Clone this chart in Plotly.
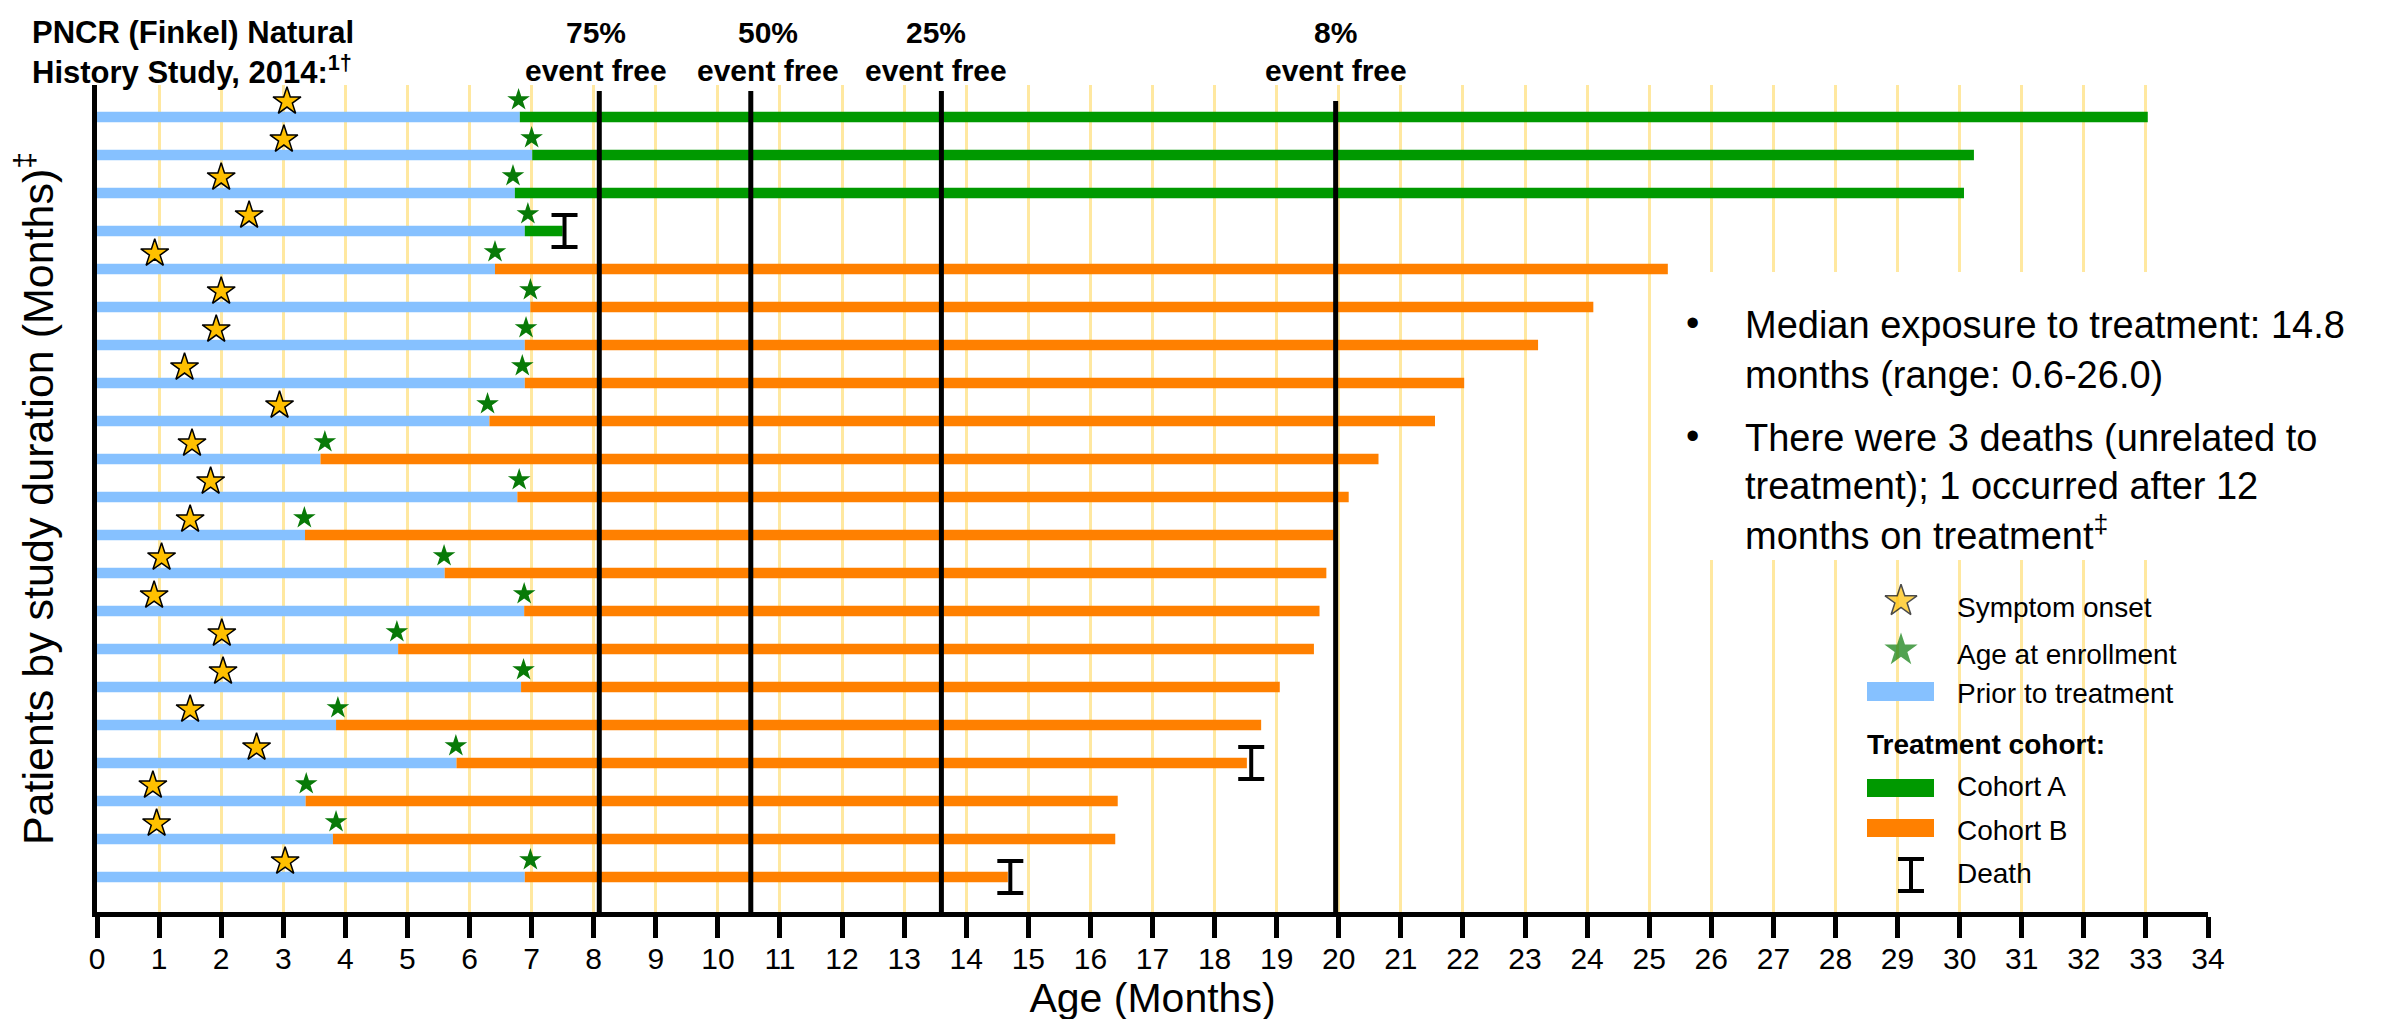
import plotly.graph_objects as go

# ---------------- data ----------------
rows = list(range(1, 22))  # patients ordered by study duration (top = 1)
symptom_onset = [3.06, 3.01, 2.00, 2.45, 0.93, 2.00, 1.92, 1.41, 2.94, 1.53, 1.83,
                 1.50, 1.04, 0.92, 2.01, 2.03, 1.50, 2.57, 0.90, 0.96, 3.03]
age_enrollment = [6.79, 7.00, 6.70, 6.94, 6.41, 6.98, 6.91, 6.85, 6.29, 3.67, 6.80,
                  3.34, 5.59, 6.88, 4.83, 6.87, 3.88, 5.78, 3.37, 3.85, 6.98]
treatment_start = [6.81, 7.01, 6.73, 6.89, 6.41, 6.98, 6.89, 6.89, 6.32, 3.60, 6.77,
                   3.35, 5.60, 6.88, 4.85, 6.83, 3.85, 5.79, 3.36, 3.80, 6.89]
study_end = [33.03, 30.23, 30.07, 7.50, 25.30, 24.10, 23.21, 22.02, 21.55, 20.64, 20.16,
             19.92, 19.80, 19.69, 19.60, 19.05, 18.75, 18.52, 16.44, 16.40, 14.67]
cohort = ['A', 'A', 'A', 'A', 'B', 'B', 'B', 'B', 'B', 'B', 'B',
          'B', 'B', 'B', 'B', 'B', 'B', 'B', 'B', 'B', 'B']
death_rows = [4, 18, 21]
death_age = [7.53, 18.59, 14.71]
event_free_age = [8.09, 10.53, 13.60, 19.95]
event_free_label = ['75%', '50%', '25%', '8%']
x_ticks = list(range(0, 35))

# ---------------- style ----------------
FONT = 'Liberation Sans, Arial, sans-serif'
BLUE = '#86C1FF'
GREEN_BAR = '#009900'
ORANGE = '#FF8000'
GOLD = '#FFC000'
STAR_GREEN = '#087A08'
GRID = '#FFE8A0'
COHORT_COLOR = {'A': GREEN_BAR, 'B': ORANGE}

W, H = 2381, 1019
L, R, T, B = 89, 2200, 77, 904   # plot area in pixels


def pxx(xp):
    return (xp - L) / (R - L)


def pxy(yp):
    return (B - yp) / (B - T)


fig = go.Figure()

# prior-to-treatment bars
fig.add_trace(go.Bar(y=rows, x=treatment_start, base=[0] * len(rows), orientation='h',
                     marker=dict(color=BLUE, line=dict(width=0)), width=0.28,
                     showlegend=False, hoverinfo='skip'))
# treatment bars per cohort
for c in ['A', 'B']:
    idx = [i for i, v in enumerate(cohort) if v == c]
    fig.add_trace(go.Bar(y=[rows[i] for i in idx],
                         x=[study_end[i] - treatment_start[i] for i in idx],
                         base=[treatment_start[i] for i in idx], orientation='h',
                         marker=dict(color=COHORT_COLOR[c], line=dict(width=0)), width=0.28,
                         showlegend=False, hoverinfo='skip'))

# symptom onset (gold star) and age at enrollment (green star), drawn just above each bar
fig.add_trace(go.Scatter(x=symptom_onset, y=[r - 0.41 for r in rows], mode='markers',
                         marker=dict(symbol='star', size=21, color=GOLD,
                                     line=dict(color='black', width=1.5)),
                         showlegend=False, hoverinfo='skip'))
fig.add_trace(go.Scatter(x=age_enrollment, y=[r - 0.45 for r in rows], mode='markers',
                         marker=dict(symbol='star', size=17, color=STAR_GREEN,
                                     line=dict(width=0)),
                         showlegend=False, hoverinfo='skip'))

# deaths as I-beams
fig.add_trace(go.Scatter(x=death_age, y=death_rows, mode='markers',
                         marker=dict(size=1, color='rgba(0,0,0,0)'),
                         error_y=dict(type='constant', value=0.42, width=13, thickness=4,
                                      color='black'),
                         showlegend=False, hoverinfo='skip'))

shapes = []
annotations = []

# event-free reference lines and labels
line_top_px = [83, 83, 83, 93]
label_shift = [-3, 17, -5, 0]
for a, lab, top, sh in zip(event_free_age, event_free_label, line_top_px, label_shift):
    shapes.append(dict(type='line', xref='x', yref='paper', x0=a, x1=a, y0=0, y1=pxy(top),
                       line=dict(color='black', width=5), layer='above'))
    annotations.append(dict(xref='x', yref='paper', x=a, xshift=sh, y=pxy(25), text=f'<b>{lab}</b>',
                            showarrow=False, font=dict(size=30, color='black'),
                            xanchor='center', yanchor='middle'))
    annotations.append(dict(xref='x', yref='paper', x=a, xshift=sh, y=pxy(62), text='<b>event free</b>',
                            showarrow=False, font=dict(size=30, color='black'),
                            xanchor='center', yanchor='middle'))

# title at top-left
annotations.append(dict(xref='paper', yref='paper', x=pxx(22), y=pxy(25), xanchor='left', yanchor='middle',
                        text='<b>PNCR (Finkel) Natural</b>', showarrow=False,
                        font=dict(size=31, color='black')))
annotations.append(dict(xref='paper', yref='paper', x=pxx(22), y=pxy(62), xanchor='left', yanchor='middle',
                        text='<b>History Study, 2014:<sup>1†</sup></b>', showarrow=False,
                        font=dict(size=31, color='black')))

# white box behind the notes
shapes.append(dict(type='rect', xref='paper', yref='paper', x0=pxx(1670), x1=pxx(2215),
                   y0=pxy(552), y1=pxy(264), fillcolor='white', line=dict(width=0), layer='above'))

notes = [(317, True, 'Median exposure to treatment: 14.8'),
         (367, False, 'months (range: 0.6-26.0)'),
         (430, True, 'There were 3 deaths (unrelated to'),
         (478, False, 'treatment); 1 occurred after 12'),
         (525, False, 'months on treatment<sup>‡</sup>')]
for yp, bullet, txt in notes:
    if bullet:
        annotations.append(dict(xref='paper', yref='paper', x=pxx(1684), y=pxy(yp - 2), text='•',
                                showarrow=False, xanchor='center', yanchor='middle',
                                font=dict(size=38, color='black')))
    annotations.append(dict(xref='paper', yref='paper', x=pxx(1735), y=pxy(yp), text=txt,
                            showarrow=False, xanchor='left', yanchor='middle',
                            font=dict(size=38, color='black')))

# ---------------- legend (drawn on an overlay axis in pixel units) ----------------
fig.add_trace(go.Scatter(x=[1893, 1893], y=[593, 642], mode='markers', xaxis='x2', yaxis='y2',
                         marker=dict(symbol='star', size=[24, 25], color=[GOLD, STAR_GREEN],
                                     line=dict(color='black', width=[1.5, 0])),
                         showlegend=False, hoverinfo='skip'))
fig.add_trace(go.Scatter(x=[1903], y=[867], mode='markers', xaxis='x2', yaxis='y2',
                         marker=dict(size=1, color='rgba(0,0,0,0)'),
                         error_y=dict(type='constant', value=16, width=13, thickness=4, color='black'),
                         showlegend=False, hoverinfo='skip'))
for y0, y1, col in [(674, 693, BLUE), (771, 789, GREEN_BAR), (811, 829, ORANGE)]:
    shapes.append(dict(type='rect', xref='x2', yref='y2', x0=1859, x1=1926, y0=y0, y1=y1,
                       fillcolor=col, line=dict(width=0), layer='above'))
legend_text = [(599, 'Symptom onset'), (646, 'Age at enrollment'), (685, 'Prior to treatment'),
               (778, 'Cohort A'), (822, 'Cohort B'), (865, 'Death')]
for yp, txt in legend_text:
    annotations.append(dict(xref='paper', yref='paper', x=pxx(1947), y=pxy(yp), text=txt,
                            showarrow=False, xanchor='left', yanchor='middle',
                            font=dict(size=28, color='black')))
annotations.append(dict(xref='paper', yref='paper', x=pxx(1857), y=pxy(736), text='<b>Treatment cohort:</b>',
                        showarrow=False, xanchor='left', yanchor='middle',
                        font=dict(size=28, color='black')))

fig.update_layout(
    width=W, height=H,
    margin=dict(l=L, r=W - R, t=T, b=H - B, pad=0),
    paper_bgcolor='white', plot_bgcolor='white',
    font=dict(family=FONT, color='black'),
    barmode='overlay', showlegend=False,
    xaxis=dict(range=[0, 34], tickvals=x_ticks, ticktext=[str(v) for v in x_ticks],
               ticks='outside', ticklen=21, tickwidth=5, tickcolor='black',
               showline=True, linewidth=5, linecolor='black',
               showgrid=True, gridcolor=GRID, gridwidth=2.5, zeroline=False,
               tickfont=dict(size=30, color='black'), ticklabelstandoff=-5, automargin=False,
               title=dict(text='Age (Months)', font=dict(size=41, color='black'), standoff=9)),
    yaxis=dict(range=[21.92, 0.158], showline=True, linewidth=5, linecolor='black',
               showticklabels=False, ticks='', showgrid=False, zeroline=False, automargin=False,
               title=dict(text='Patients by study duration (Months)<sup>‡</sup>',
                          font=dict(size=43, color='black'), standoff=30)),
    xaxis2=dict(overlaying='x', range=[L, R], visible=False, anchor='y2'),
    yaxis2=dict(overlaying='y', range=[B, T], visible=False, anchor='x2'),
    shapes=shapes, annotations=annotations,
)

fig.write_html('out.html')
